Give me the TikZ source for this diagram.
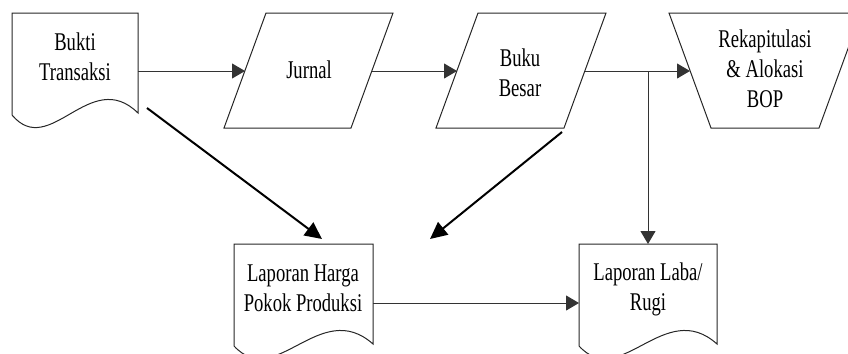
\documentclass[tikz,border=0pt]{standalone}
\usepackage{fontspec}
\newfontfamily\lblfont{Liberation Serif}[FakeStretch=0.73]
\usetikzlibrary{arrows.meta}
\newcommand\mylines[1]{\begin{tabular}[t]{@{}c@{}}#1\end{tabular}}
\begin{document}
\begin{tikzpicture}[x=1bp,y=-1bp,
  outline/.style={draw=black!85, line width=1bp, line join=miter},
  thinarrow/.style={draw=black!80, line width=1bp, -{Triangle[length=13bp,width=15bp]}},
  thickarrow/.style={draw=black, line width=2bp, -{Triangle[length=17bp,width=16bp]}},
  txt/.style={font=\lblfont\fontsize{25.5bp}{30bp}\selectfont, inner sep=0pt, anchor=base},
  pics/docu/.style={code={
    \draw[outline] (0,0) -- (#1,0) -- (#1,100)
      .. controls ({0.62*#1},53) and ({0.30*#1},147) .. (0,102) -- cycle;}}
]
\useasboundingbox (0,0) rectangle (848,353);
\clip (0,0) rectangle (848,353);

% shapes
\pic at (12,13) {docu=126};
\draw[outline] (266,13) -- (393,13) -- (351,128) -- (224,128) -- cycle;
\draw[outline] (478,13) -- (606,13) -- (564,128) -- (436,128) -- cycle;
\draw[outline] (669,13) -- (861,13) -- (819,128) -- (711,128) -- cycle;
\pic at (234,244) {docu=139};
\pic at (579,244) {docu=138};

% texts
\node[txt] (bt) at (75,50) {\mylines{Bukti\\Transaksi}};
\node[txt] (ju) at (309,78) {Jurnal};
\node[txt] (bb) at (520,66) {\mylines{Buku\\Besar}};
\node[txt] (rk) at (765,47) {\mylines{Rekapitulasi\\\& Alokasi\\BOP}};
\node[txt] (hpp) at (303,281) {\mylines{Laporan Harga\\Pokok Produksi}};
\node[txt] (lb) at (648,280) {\mylines{Laporan Laba/\\Rugi}};

% connector end points on the shape outlines
\coordinate (bt-e) at (138,71);
\coordinate (bt-s) at (147,108);
\coordinate (ju-w) at (245,71);
\coordinate (ju-e) at (372,71);
\coordinate (bb-w) at (457,71);
\coordinate (bb-e) at (585,71);
\coordinate (bb-s) at (562,132);
\coordinate (rk-w) at (690,71);
\coordinate (junc) at (648,71);
\coordinate (lb-n) at (648,244);
\coordinate (lb-w) at (579,303);
\coordinate (hpp-e) at (373,303);
\coordinate (hpp-n1) at (322,239);
\coordinate (hpp-n2) at (430,239);

% connectors
\draw[thinarrow] (bt-e) -- (ju-w);
\draw[thinarrow] (ju-e) -- (bb-w);
\draw[thinarrow] (bb-e) -- (rk-w);
\draw[thinarrow] (junc) -- (lb-n);
\draw[thinarrow] (hpp-e) -- (lb-w);
\draw[thickarrow] (bt-s) -- (hpp-n1);
\draw[thickarrow] (bb-s) -- (hpp-n2);
\end{tikzpicture}
\end{document}
